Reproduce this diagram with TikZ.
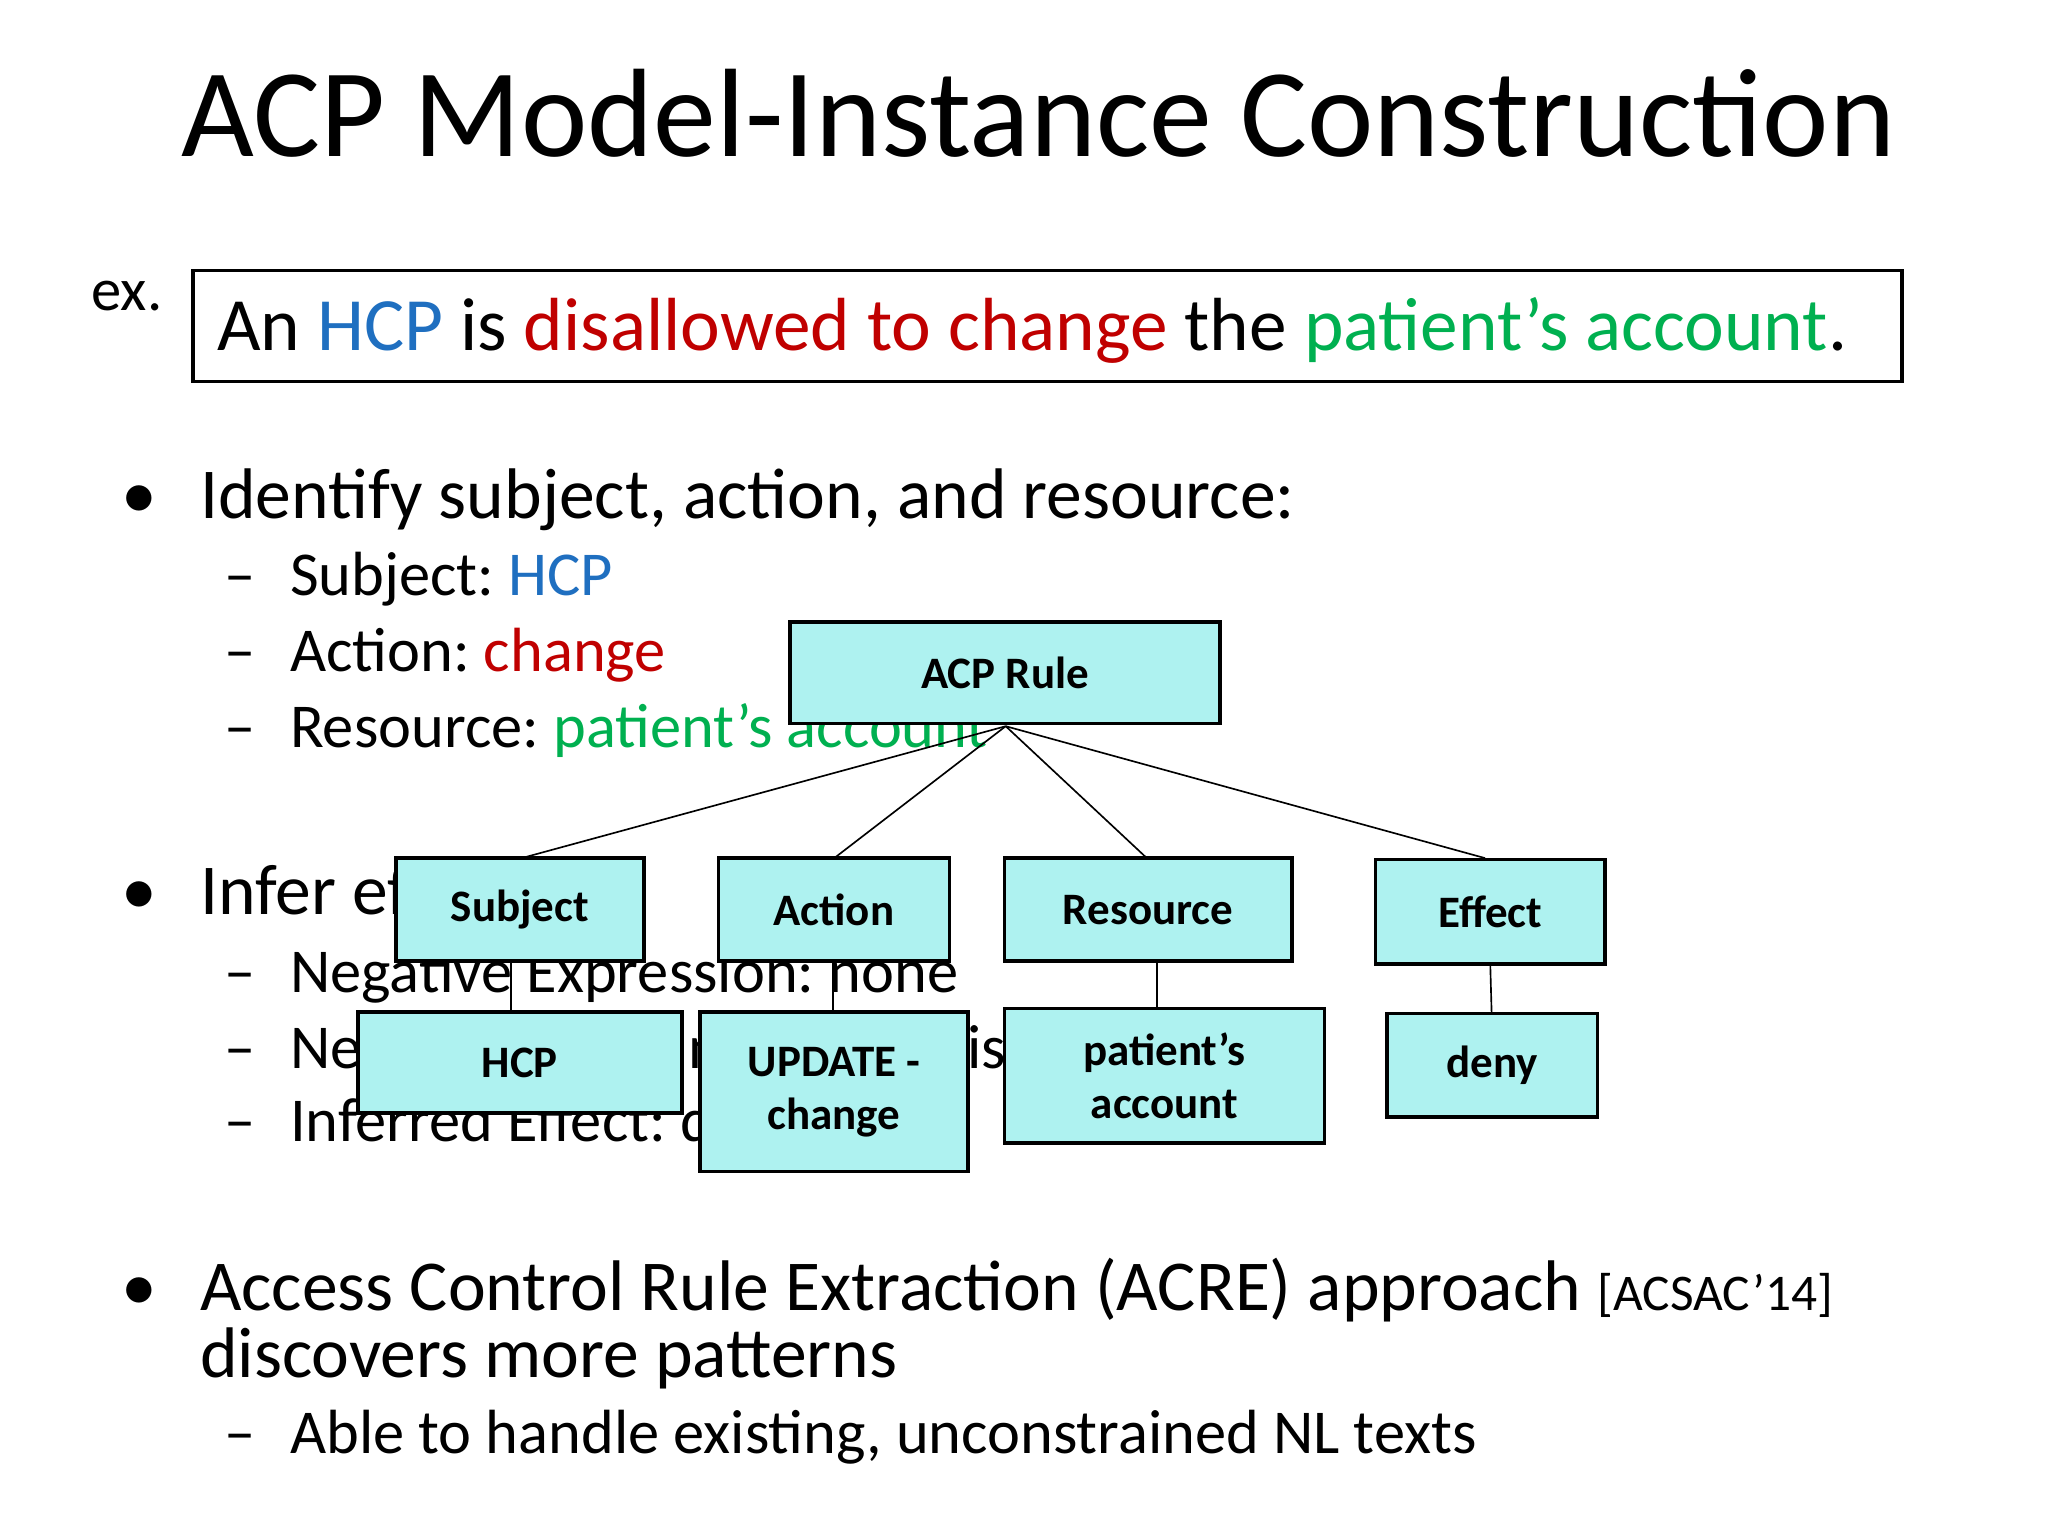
\documentclass[tikz,border=0pt]{standalone}
\usepackage{fontspec}
\setmainfont{Carlito}
\frenchspacing
\definecolor{bx}{HTML}{AEF2F0}
\definecolor{hblue}{HTML}{1F6FC0}
\definecolor{hred}{HTML}{C00000}
\definecolor{hgreen}{HTML}{00B050}
\begin{document}
\begin{tikzpicture}[x=0.05cm,y=-0.05cm,
  box/.style={draw=black,line width=4pt,fill=bx,inner sep=0pt,font=\fontsize{49}{58}\selectfont\bfseries,align=center},
  conn/.style={draw=black,line width=1.8pt},
  body/.style={anchor=base west,inner sep=0pt,font=\fontsize{78}{88}\selectfont},
  sub/.style={anchor=base west,inner sep=0pt,font=\fontsize{68}{76}\selectfont}]
\useasboundingbox[fill=white] (0,0) rectangle (1568,1176);
\node[anchor=base,inner sep=0pt,font=\fontsize{137}{150}\selectfont] (title) at (795,120) {ACP Model-Instance Construction};
\node[body,font=\fontsize{66}{72}\selectfont] (ex) at (70,238) {ex.};
\draw[line width=4pt] (148,207) rectangle (1456,292);
\node[body,font=\fontsize{82}{92}\selectfont] (sent) at (166,268) {An \textcolor{hblue}{HCP} is \textcolor{hred}{disallowed to change} the \textcolor{hgreen}{patient’s account}.};
% bullets
\node[body] (b1d) at (93,397) {•};
\node[body] (b1) at (153,397) {Identify subject, action, and resource:};
\node[sub] (s1d) at (172,456) {–};
\node[sub] (s1) at (222,456) {Subject: \textcolor{hblue}{HCP}};
\node[sub] (s2d) at (172,514) {–};
\node[sub] (s2) at (222,514) {Action: \textcolor{hred}{change}};
\node[sub] (s3d) at (172,572) {–};
\node[sub] (s3) at (222,572) {Resource: \textcolor{hgreen}{patient’s account}};
\node[body] (b2d) at (93,700) {•};
\node[body] (b2) at (153,700) {Infer effect:};
\node[sub] (t1d) at (172,760) {–};
\node[sub] (t1) at (222,760) {Negative Expression: none};
\node[sub] (t2d) at (172,818) {–};
\node[sub] (t2) at (222,818) {Negative Meaning Word: disallow};
\node[sub] (t3d) at (172,874) {–};
\node[sub] (t3) at (222,874) {Inferred Effect: deny};
\node[body] (b3d) at (93,1003) {•};
\node[body] (b3) at (153,1003) {Access Control Rule Extraction (ACRE) approach {\fontsize{56}{62}\selectfont [ACSAC’14]}};
\node[body] (b3b) at (153,1055) {discovers more patterns};
\node[sub] (u1d) at (172,1113) {–};
\node[sub] (u1) at (222,1113) {Able to handle existing, unconstrained NL texts};
% diagram
\node[box,minimum width=329*0.05cm,minimum height=78*0.05cm] (rule) at (769.5,515) {ACP Rule};
\node[box,minimum width=190*0.05cm,minimum height=79*0.05cm] (subj) at (398,696.5) {Subject};
\node[box,minimum width=177*0.05cm,minimum height=79*0.05cm] (act) at (638.5,696.5) {Action};
\node[box,minimum width=220*0.05cm,minimum height=79*0.05cm] (res) at (879,696.5) {Resource};
\node[box,minimum width=176*0.05cm,minimum height=80*0.05cm] (eff) at (1141,698) {Effect};
\coordinate (top) at (770,556);
\draw[conn] (top) -- (403,656);
\draw[conn] (top) -- (640,656);
\draw[conn] (top) -- (877,656);
\draw[conn] (top) -- (1137,657);
\node[box,minimum width=248*0.05cm,minimum height=77*0.05cm] (hcp) at (398,813.5) {HCP};
\node[box,minimum width=205*0.05cm,minimum height=122*0.05cm] (upd) at (638.5,836) {UPDATE -\\change};
\node[box,minimum width=245*0.05cm,minimum height=103*0.05cm] (pa) at (891.5,823.5) {patient’s\\account};
\node[box,minimum width=161*0.05cm,minimum height=79*0.05cm] (deny) at (1142.5,815.5) {deny};
\draw[conn] (391,737) -- (391,774);
\draw[conn] (638,737) -- (638,774);
\draw[conn] (886,737) -- (886,771);
\draw[conn] (1141,739) -- (1142,775);
\end{tikzpicture}
\end{document}
